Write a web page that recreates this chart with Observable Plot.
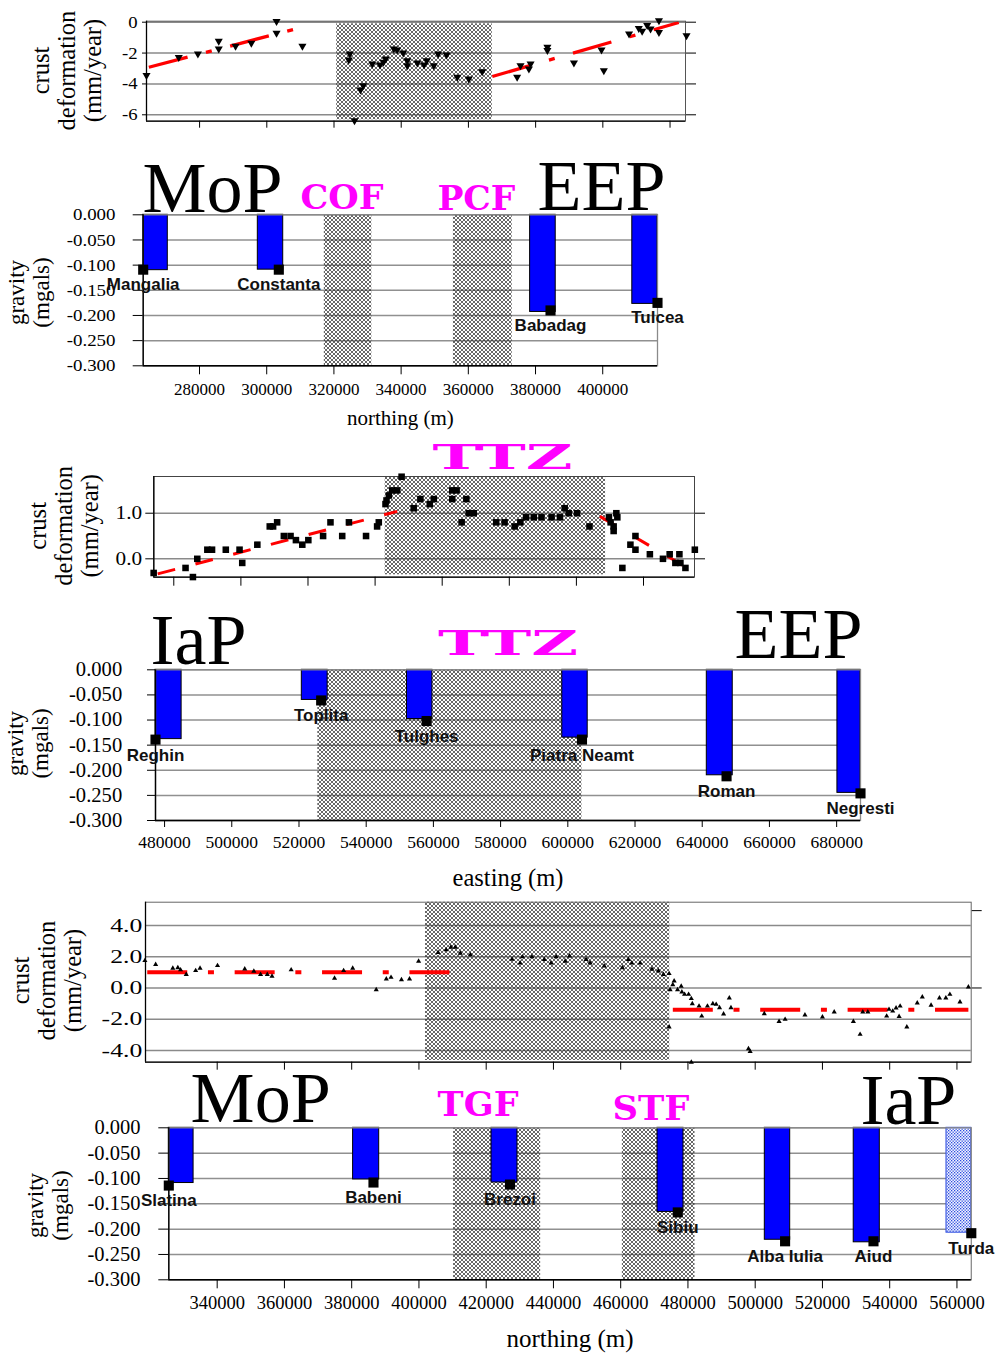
<!DOCTYPE html>
<html>
<head>
<meta charset="utf-8">
<script src="https://cdn.jsdelivr.net/npm/d3@7"></script>
<script src="https://cdn.jsdelivr.net/npm/@observablehq/plot@0.6"></script>
<style>
html, body { margin: 0; padding: 0; background: #fff; }
#wrap { position: relative; width: 996px; height: 1353px; overflow: hidden; background: #fff; }
#wrap svg { position: absolute; left: 0; }
</style>
</head>
<body>
<svg width="0" height="0" style="position:absolute">
  <defs>
    <pattern id="xhatch" patternUnits="userSpaceOnUse" width="4" height="4">
      <path d="M-1,-1L5,5M5,-1L-1,5" stroke="#262626" stroke-width="0.7" fill="none"/>
    </pattern>
    <pattern id="dots" patternUnits="userSpaceOnUse" width="3" height="3">
      <rect width="3" height="3" fill="#f4f6ff"/>
      <rect x="0" y="0" width="1.3" height="1.3" fill="#2b4be0"/>
      <rect x="1.5" y="1.5" width="1.3" height="1.3" fill="#2b4be0"/>
    </pattern>
  </defs>
</svg>
<div id="wrap"></div>
<script>
// ================= DATA =================
// ---- Panel 1: crust deformation vs northing (Dobrogea) ----
const p1XTicks = [280000, 300000, 320000, 340000, 360000, 380000, 400000, 420000];
const p1YTicks = [0, -2, -4, -6];
const p1X = [264200,273800,279500,285700,285700,290700,295400,302900,302900,310600,
             324700,324400,327900,328700,326100,331400,333700,334700,335400,337800,
             338800,340600,341800,341800,344800,346800,347600,349700,351000,353500,
             356700,360100,364100,374500,375500,378000,378500,383500,383500,391400,
             399600,400300,407800,410700,411700,413200,414200,416700,416700,424900];
const p1V = [-3.45,-2.27,-2.05,-1.23,-1.73,-1.55,-1.36,0.05,-0.71,-1.55,
             -2.05,-2.44,-4.38,-4.10,-6.37,-2.70,-2.76,-2.59,-2.37,-1.73,
             -1.79,-1.98,-2.48,-2.81,-2.63,-2.76,-2.48,-2.81,-2.05,-2.11,
             -3.56,-3.67,-3.20,-3.56,-2.81,-3.02,-2.70,-1.62,-1.83,-2.63,
             -1.79,-3.13,-0.75,-0.39,-0.58,-0.21,-0.43,0.11,-0.65,-0.86];
const p1TrendSeg = ["a", "a", "b", "b"];
const p1TrendX = [264900, 309400, 367100, 422600];
const p1TrendV = [-2.92, -0.39, -3.52, -0.02];
const p1ZoneFrom = [320800];
const p1ZoneTo = [367100];

// ---- Panel 2: gravity vs northing (Dobrogea) ----
const p2XTicks = [280000, 300000, 320000, 340000, 360000, 380000, 400000];
const p2YTicks = [0, -0.05, -0.1, -0.15, -0.2, -0.25, -0.3];
const p2Stations = ["Mangalia", "Constanta", "Babadag", "Tulcea"];
const p2BarFrom = [263240, 297350, 378390, 408800];
const p2BarTo = [270560, 304910, 386010, 416300];
const p2Gravity = [-0.110, -0.109, -0.193, -0.177];
const p2StationX = [263240, 303600, 384460, 416300];
const p2StationG = [-0.109, -0.109, -0.190, -0.175];
const p2ZoneFrom = [317140, 355560];
const p2ZoneTo = [331280, 373060];
const p2Regions = ["MoP", "EEP"];
const p2RegionX = [263000, 380600];
const p2RegionY = [0.005, 0.010];
const p2Faults = ["COF", "PCF"];
const p2FaultX = [322400, 362400];
const p2FaultY = [0.033, 0.031];

// ---- Panel 3: crust deformation vs easting (Eastern Carpathians) ----
const p3XTicks = [480000, 500000, 520000, 540000, 560000, 580000, 600000, 620000];
const p3YTicks = [1.0, 0.0];
const p3X = [474000,483500,485700,487000,490000,491400,495500,499600,500400,504900,
             508600,509600,510800,512800,514800,516400,518300,520100,524500,526700,
             530200,532200,537300,540600,541100,543100,543400,544100,545100,546600,
             547900,551500,553500,556300,557500,563000,564300,563000,567200,565800,
             567900,569400,576100,578600,581600,583300,585000,587300,589600,592600,
             595100,596500,597700,600200,603900,609700,611900,612200,611100,611100,
             610200,613700,617600,616100,617600,621900,625800,627800,630700,629500,
             631000,632500,635300];
const p3V = [-0.31,-0.20,-0.40,0.00,0.20,0.20,0.20,0.20,-0.09,0.31,
             0.71,0.71,0.80,0.50,0.50,0.41,0.31,0.41,0.50,0.80,
             0.50,0.80,0.50,0.71,0.80,1.20,1.28,1.39,1.50,1.50,
             1.80,1.11,1.31,1.20,1.31,1.50,1.50,1.31,1.31,0.80,
             1.00,1.00,0.80,0.80,0.71,0.80,0.91,0.91,0.91,0.91,
             0.91,1.11,1.00,1.00,0.71,0.91,1.00,0.91,0.71,0.61,
             0.80,-0.20,0.50,0.31,0.20,0.10,0.00,0.10,0.10,-0.09,
             -0.09,-0.20,0.20];
const p3TrendSeg = ["a", "a", "b", "b"];
const p3TrendX = [475200, 546600, 607000, 633500];
const p3TrendV = [-0.33, 1.04, 0.93, -0.22];
const p3ZoneFrom = [543000];
const p3ZoneTo = [608700];
const p3Faults = ["TTZ"];
const p3FaultX = [578000];
const p3FaultY = [2.21];

// ---- Panel 4: gravity vs easting ----
const p4XTicks = [480000, 500000, 520000, 540000, 560000, 580000, 600000, 620000, 640000, 660000, 680000];
const p4YTicks = [0, -0.05, -0.1, -0.15, -0.2, -0.25, -0.3];
const p4Stations = ["Reghin", "Toplita", "Tulghes", "Piatra Neamt", "Roman", "Negresti"];
const p4BarFrom = [477300, 520840, 552140, 598350, 641360, 680230];
const p4BarTo = [485070, 528530, 559710, 605920, 649080, 687100];
const p4Gravity = [-0.138, -0.060, -0.098, -0.135, -0.210, -0.245];
const p4StationX = [477300, 526600, 557980, 604220, 647240, 687100];
const p4StationG = [-0.139, -0.061, -0.102, -0.139, -0.212, -0.246];
const p4ZoneFrom = [525600];
const p4ZoneTo = [604200];
const p4Regions = ["IaP", "EEP"];
const p4RegionX = [475800, 649600];
const p4RegionY = [0.012, 0.024];
const p4Faults = ["TTZ"];
const p4FaultX = [582200];
const p4FaultY = [0.052];

// ---- Panel 5: crust deformation vs northing (Southern Carpathians) ----
const p5XTicks = [340000,360000,380000,400000,420000,440000,460000,480000,500000,520000,540000,560000];
const p5YTicks = [4, 2, 0, -2, -4];
const p5RightTicks = [4.95, 0];
const p5X = [318500,321700,326800,328300,329100,330800,333600,334900,340100,348200,
             350900,352900,354900,356300,362000,374900,377600,380300,387300,390300,
             391700,394800,397200,399900,405700,408100,409500,410800,412300,415300,
             427700,430100,430800,433600,437300,439300,440800,443500,444800,449700,
             450900,455100,460500,462300,463300,465800,469300,471200,472700,474400,
             474400,474700,475500,475900,476900,478000,478200,479000,480200,481000,
             481300,483300,484100,485800,487400,488400,489400,490600,492300,492800,
             481000,498000,498500,502700,507100,508900,514800,520000,523500,529200,
             531200,532000,533500,539100,539800,540900,541900,543100,542800,545100,
             548200,549700,552300,554800,556700,557900,560900,563400];
const p5V = [1.75,1.50,1.26,1.30,1.16,0.86,1.11,1.26,1.43,1.22,
             1.07,0.86,0.86,0.75,1.16,0.62,1.11,1.26,-0.11,0.58,
             0.68,0.53,0.58,1.71,2.27,2.44,2.61,2.61,2.22,2.12,
             1.84,1.60,1.99,1.99,1.82,1.60,1.99,1.71,2.05,1.82,
             1.60,1.41,1.30,1.82,1.60,1.60,1.20,1.09,0.86,0.92,
             -2.50,-0.11,0.21,0.45,-0.11,0.11,-0.26,-0.41,-0.41,-0.68,
             -1.01,-1.16,-1.80,-1.16,-1.01,-1.05,-1.26,-1.67,-0.64,-1.26,
             -4.75,-3.89,-4.06,-1.65,-2.14,-2.01,-1.73,-1.86,-1.54,-2.14,
             -2.97,-1.54,-1.54,-1.80,-1.37,-1.48,-1.28,-1.16,-1.82,-2.50,
             -0.96,-0.58,-1.11,-0.64,-0.64,-0.41,-0.90,0.06];
const p5TrendSeg = ["a", "a", "b", "b"];
const p5TrendX = [319200, 409100, 475500, 563400];
const p5TrendV = [1.0, 1.0, -1.39, -1.39];
const p5ZoneFrom = [401950];
const p5ZoneTo = [474600];

// ---- Panel 6: gravity vs northing (Southern Carpathians) ----
const p6XTicks = [340000,360000,380000,400000,420000,440000,460000,480000,500000,520000,540000,560000];
const p6YTicks = [0, -0.05, -0.1, -0.15, -0.2, -0.25, -0.3];
const p6Stations = ["Slatina", "Babeni", "Brezoi", "Sibiu", "Alba Iulia", "Aiud", "Turda"];
const p6BarFrom = [325610, 380420, 421580, 470950, 502860, 529300, 556890];
const p6BarTo = [332980, 388180, 429310, 478680, 510410, 537060, 564270];
const p6Gravity = [-0.109, -0.102, -0.108, -0.166, -0.221, -0.226, -0.207];
const p6StationX = [325610, 386480, 427080, 476980, 508890, 535180, 564270];
const p6StationG = [-0.114, -0.108, -0.112, -0.167, -0.224, -0.224, -0.208];
const p6ZoneFrom = [410300, 460500];
const p6ZoneTo = [436200, 482100];
const p6Regions = ["MoP", "IaP"];
const p6RegionX = [332100, 531300];
const p6RegionY = [0.011, 0.008];
const p6Faults = ["TGF", "STF"];
const p6FaultX = [417600, 469000];
const p6FaultY = [0.044, 0.037];

// ================= HELPERS =================
const W = 996;
const SERIF = "Liberation Serif";
const SANS = "Liberation Sans";
const wrap = document.getElementById("wrap");
const faultWidths = {COF: 83, PCF: 78, TGF: 81, STF: 77, TTZ: 140};

const toPoints = (xs, vs) => xs.map((x, i) => ({x, v: vs[i]}));
const toTrend = (seg, xs, vs) => xs.map((x, i) => ({seg: seg[i], x, v: vs[i]}));
const toZones = (a, b) => a.map((from, i) => ({from, to: b[i]}));
const toLabels = (t, xs, ys) => t.map((text, i) => ({text, x: xs[i], y: ys[i]}));
const toStations = (names, b1, b2, g, sx, sg) =>
  names.map((name, i) => ({name, x1: b1[i], x2: b2[i], g: g[i], sx: sx[i], sg: sg[i]}));

function finish(svg, L, yStretch) {
  svg.style.top = L.top + "px";
  if (yStretch) {
    svg.querySelectorAll('g[aria-label="y-axis tick label"] text').forEach(t => {
      t.setAttribute("transform", (t.getAttribute("transform") || "") + ` scale(${yStretch},1)`);
    });
  }
  svg.querySelectorAll("text").forEach(t => {
    const w = faultWidths[t.textContent];
    if (w && t.children.length === 0) {
      t.setAttribute("textLength", w);
      t.setAttribute("lengthAdjust", "spacingAndGlyphs");
    }
  });
  wrap.appendChild(svg);
}

function margins(L) {
  return {
    width: W, height: L.height,
    marginLeft: L.left, marginRight: W - L.right,
    marginTop: L.ft - L.top, marginBottom: L.top + L.height - L.fb
  };
}

function crustPanel(L, c) {
  const svg = Plot.plot({
    ...margins(L),
    x: {domain: c.xDomain},
    y: {domain: c.yDomain},
    style: {fontFamily: SERIF, background: "transparent", overflow: "visible", color: "#000"},
    marks: [
      Plot.gridY({ticks: c.yTicks, stroke: "#8a8a8a", strokeOpacity: 1, strokeWidth: 1.4}),
      Plot.rect(c.zones, {x1: "from", x2: "to", y1: c.yDomain[0], y2: c.yDomain[1],
        insetTop: c.zoneInsetTop, insetBottom: c.zoneInsetBottom, fill: "url(#xhatch)"}),
      Plot.line(c.trend, {x: "x", y: "v", z: "seg", stroke: "#ff0000", strokeWidth: c.trendWidth,
        strokeDasharray: c.dash, strokeLinecap: "butt"}),
      Plot.frame({stroke: c.frameColor}),
      Plot.ruleX([c.xDomain[0]], {stroke: "#000", strokeWidth: 1.3}),
      Plot.ruleY([c.yDomain[0]], {stroke: "#000", strokeWidth: 1.3}),
      Plot.axisY({ticks: c.yTicks, tickFormat: c.yFormat, tickSize: c.yTickSize, tickPadding: c.yTickPadding,
        fontSize: c.yFontSize, fontFamily: SERIF, label: null}),
      Plot.axisY({anchor: "right", ticks: c.rightTicks, tickFormat: () => "", tickSize: 10, label: null}),
      Plot.axisX({ticks: c.xTicks, tickFormat: () => "", tickSize: c.xTickSize, label: null}),
      Plot.dot(c.points, {x: "x", y: "v", symbol: c.symbol, rotate: c.rotate, r: c.r, fill: "#000"}),
      Plot.text(c.faults || [], {x: "x", y: "y", text: "text", fill: "#ff00ff", fontFamily: "DejaVu Serif",
        fontWeight: "bold", fontSize: 34}),
      Plot.text(["crust\ndeformation\n(mm/year)"], {frameAnchor: "left", rotate: -90, textAnchor: "middle",
        lineAnchor: "middle", dx: c.labelX - L.left, dy: c.labelDy, fontSize: 24.5, lineHeight: 1.06,
        fontFamily: SERIF})
    ]
  });
  finish(svg, L, c.yStretch);
}

function gravityPanel(L, c) {
  const yDom = [-0.3, 0];
  const normal = c.stations.filter(d => d.name !== "Turda");
  const measured = c.stations.filter(d => d.name === "Turda");
  const svg = Plot.plot({
    ...margins(L),
    x: {domain: c.xDomain},
    y: {domain: yDom},
    style: {fontFamily: SERIF, background: "transparent", overflow: "visible", color: "#000"},
    marks: [
      Plot.gridY({ticks: c.yTicks, stroke: "#909090", strokeOpacity: 1, strokeWidth: 1.5}),
      Plot.rect(c.zones, {x1: "from", x2: "to", y1: yDom[0], y2: yDom[1], fill: "url(#xhatch)"}),
      Plot.rect(normal, {x1: "x1", x2: "x2", y1: 0, y2: "g", fill: "#0000ff", stroke: "#000", strokeWidth: 1}),
      Plot.rect(measured, {x1: "x1", x2: "x2", y1: 0, y2: "g", fill: "url(#dots)", stroke: "#2b4be0", strokeWidth: 1}),
      Plot.frame({stroke: "#8a8a8a", strokeWidth: 1.3}),
      Plot.ruleX([c.xDomain[0]], {stroke: "#000", strokeWidth: 1.4}),
      Plot.ruleY([yDom[0]], {stroke: "#000", strokeWidth: 1.4}),
      Plot.axisY({ticks: c.yTicks, tickFormat: d => d.toFixed(3), tickSize: c.yTickSize,
        tickPadding: c.yTickPadding, fontSize: c.yFontSize, fontFamily: SERIF, label: null}),
      Plot.axisX({ticks: c.xTicks, tickFormat: d => String(d), tickSize: c.xTickSize,
        tickPadding: c.xTickPadding, fontSize: c.xFontSize, fontFamily: SERIF, label: null}),
      Plot.dot(c.stations, {x: "sx", y: "sg", symbol: "square", r: 5.7, fill: "#000"}),
      Plot.text(c.stations, {x: "sx", y: "sg", text: "name", dy: c.nameDy, fontFamily: SANS,
        fontWeight: "bold", fontSize: 17, fill: "#111"}),
      Plot.text(c.regions, {x: "x", y: "y", text: "text", fontSize: 72, textAnchor: "start",
        lineAnchor: "bottom", fontFamily: SERIF}),
      Plot.text(c.faults, {x: "x", y: "y", text: "text", fill: "#ff00ff", fontFamily: "DejaVu Serif",
        fontWeight: "bold", fontSize: 34}),
      Plot.text([c.xLabel], {frameAnchor: "bottom", lineAnchor: "middle", dy: c.xLabelDy,
        fontSize: c.xLabelSize, fontFamily: SERIF}),
      Plot.text(["gravity\n(mgals)"], {frameAnchor: "left", rotate: -90, textAnchor: "middle",
        lineAnchor: "middle", dx: c.labelX - L.left, dy: c.labelDy, fontSize: 23, lineHeight: 1.09,
        fontFamily: SERIF})
    ]
  });
  finish(svg, L, c.yStretch);
}

// ================= LAYOUT (pixel frames) =================
const L1 = {top: 0, height: 135, left: 146, right: 685, ft: 20.7, fb: 120.7};
const L2 = {top: 140, height: 300, left: 142.7, right: 657, ft: 214.3, fb: 365.3};
const L3 = {top: 440, height: 150, left: 153.3, right: 694, ft: 476, fb: 576.7};
const L4 = {top: 590, height: 300, left: 155, right: 860, ft: 669.3, fb: 820};
const L5 = {top: 890, height: 185, left: 145, right: 970.7, ft: 901.7, fb: 1061.7};
const L6 = {top: 1070, height: 283, left: 168.3, right: 970.8, ft: 1127.3, fb: 1279.3};

// Panel 1
crustPanel(L1, {
  xDomain: [264200, 424600], yDomain: [-6.415, 0.065],
  xTicks: p1XTicks, yTicks: p1YTicks, rightTicks: p1YTicks,
  yFormat: d => String(d), yTickSize: 4, yTickPadding: 5, yFontSize: 17, yStretch: 1.1,
  xTickSize: 7, frameColor: "#555",
  zones: toZones(p1ZoneFrom, p1ZoneTo), zoneInsetTop: 2.6, zoneInsetBottom: 1.4,
  trend: toTrend(p1TrendSeg, p1TrendX, p1TrendV), trendWidth: 3.3, dash: "40,19,6,19",
  points: toPoints(p1X, p1V), symbol: "triangle", rotate: 180, r: 3,
  labelX: 66.5, labelDy: -0.7
});

// Panel 2
gravityPanel(L2, {
  xDomain: [263240, 416300], xTicks: p2XTicks, yTicks: p2YTicks,
  yTickSize: 10, yTickPadding: 17.7, yFontSize: 17.5, yStretch: 1.08,
  xTickSize: 9, xTickPadding: 7.7, xFontSize: 17,
  zones: toZones(p2ZoneFrom, p2ZoneTo),
  stations: toStations(p2Stations, p2BarFrom, p2BarTo, p2Gravity, p2StationX, p2StationG), nameDy: 15,
  regions: toLabels(p2Regions, p2RegionX, p2RegionY),
  faults: toLabels(p2Faults, p2FaultX, p2FaultY),
  xLabel: "northing (m)", xLabelDy: 52.5, xLabelSize: 21,
  labelX: 27.5, labelDy: 2.2
});

// Panel 3
crustPanel(L3, {
  xDomain: [474040, 635200], yDomain: [-0.403, 1.805],
  xTicks: p3XTicks, yTicks: p3YTicks, rightTicks: p3YTicks,
  yFormat: d => d.toFixed(1), yTickSize: 8, yTickPadding: 3.6, yFontSize: 18.5, yStretch: 1.15,
  xTickSize: 9, frameColor: "#444",
  zones: toZones(p3ZoneFrom, p3ZoneTo), zoneInsetTop: 0.7, zoneInsetBottom: 2.4,
  trend: toTrend(p3TrendSeg, p3TrendX, p3TrendV), trendWidth: 3, dash: "18,21",
  points: toPoints(p3X, p3V), symbol: "square", rotate: 0, r: 3.7,
  faults: toLabels(p3Faults, p3FaultX, p3FaultY),
  labelX: 63, labelDy: -1
});

// Panel 4
gravityPanel(L4, {
  xDomain: [477300, 687100], xTicks: p4XTicks, yTicks: p4YTicks,
  yTickSize: 8, yTickPadding: 25.3, yFontSize: 20, yStretch: 1.03,
  xTickSize: 7, xTickPadding: 8, xFontSize: 17.5,
  zones: toZones(p4ZoneFrom, p4ZoneTo),
  stations: toStations(p4Stations, p4BarFrom, p4BarTo, p4Gravity, p4StationX, p4StationG), nameDy: 15.5,
  regions: toLabels(p4Regions, p4RegionX, p4RegionY),
  faults: toLabels(p4Faults, p4FaultX, p4FaultY),
  xLabel: "easting (m)", xLabelDy: 57.5, xLabelSize: 24.5,
  labelX: 27, labelDy: -1.7
});

// Panel 5
crustPanel(L5, {
  xDomain: [318680, 564240], yDomain: [-4.75, 5.49],
  xTicks: p5XTicks, yTicks: p5YTicks, rightTicks: p5RightTicks,
  yFormat: d => d.toFixed(1), yTickSize: 0, yTickPadding: 3.3, yFontSize: 19, yStretch: 1.35,
  xTickSize: 8, frameColor: "#666",
  zones: toZones(p5ZoneFrom, p5ZoneTo), zoneInsetTop: 0, zoneInsetBottom: 1.7,
  trend: toTrend(p5TrendSeg, p5TrendX, p5TrendV), trendWidth: 4, dash: "40,20.7,6,20.7",
  points: toPoints(p5X, p5V), symbol: "triangle", rotate: 0, r: 1.9,
  labelX: 46.5, labelDy: -1.7
});

// Panel 6
gravityPanel(L6, {
  xDomain: [325610, 564270], xTicks: p6XTicks, yTicks: p6YTicks,
  yTickSize: 10, yTickPadding: 18.3, yFontSize: 20.5, yStretch: 1,
  xTickSize: 9, xTickPadding: 7.5, xFontSize: 18.5,
  zones: toZones(p6ZoneFrom, p6ZoneTo),
  stations: toStations(p6Stations, p6BarFrom, p6BarTo, p6Gravity, p6StationX, p6StationG), nameDy: 15,
  regions: toLabels(p6Regions, p6RegionX, p6RegionY),
  faults: toLabels(p6Faults, p6FaultX, p6FaultY),
  xLabel: "northing (m)", xLabelDy: 58.8, xLabelSize: 25,
  labelX: 47, labelDy: 1.7
});
</script>
</body>
</html>
